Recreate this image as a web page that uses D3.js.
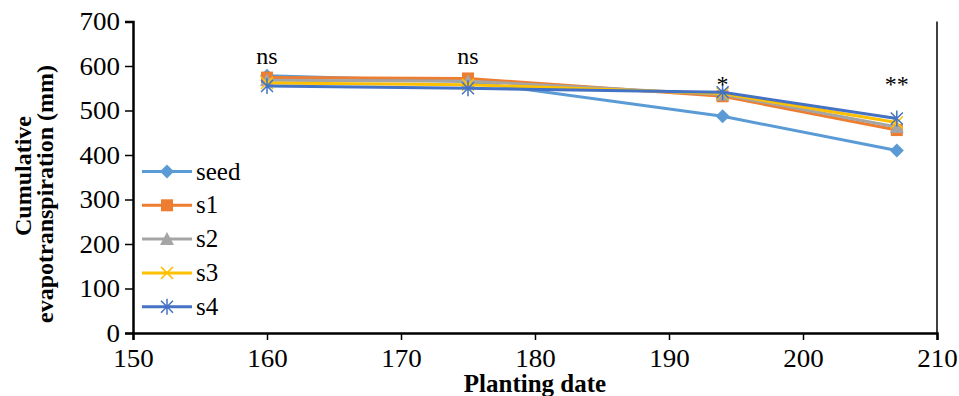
<!DOCTYPE html>
<html>
<head>
<meta charset="utf-8">
<script src="https://cdn.jsdelivr.net/npm/d3@7"></script>
<style>
  body { margin: 0; background: #fff; }
  svg { display: block; }
  svg text { font-family: "Liberation Serif", "Times New Roman", serif; fill: #000; }
</style>
</head>
<body>
<svg id="chart" width="959" height="396"></svg>
<script>
// Planting dates (day of year) and cumulative ET (mm) per treatment
const dates = [160, 175, 194, 207];
const seed = [578, 565, 487, 410];
const s1 = [574, 572, 532, 456];
const s2 = [568, 566, 536, 463];
const s3 = [562, 558, 538, 473];
const s4 = [555, 550, 541, 482];
const seriesNames = ["seed", "s1", "s2", "s3", "s4"];
const significance = ["ns", "ns", "*", "**"];
const xTicks = [150, 160, 170, 180, 190, 200, 210];
const yTicks = [0, 100, 200, 300, 400, 500, 600, 700];

const seriesValues = [seed, s1, s2, s3, s4];
const colors = ["#5B9BD5", "#ED7D31", "#A5A5A5", "#FFC000", "#4472C4"];
const shapes = ["diamond", "square", "triangle", "cross", "asterisk"];

const svg = d3.select("#chart");
const m = { left: 133, right: 937, top: 21.5, bottom: 333 };

const x = d3.scaleLinear().domain([150, 210]).range([m.left, m.right]);
const y = d3.scaleLinear().domain([0, 700]).range([m.bottom, m.top]);

// widen a text element horizontally about its own anchor point
function widen(sel, sx) {
  sel.each(function () {
    const t = d3.select(this);
    const ax = +t.attr("x") || 0;
    t.attr("transform", `translate(${ax * (1 - sx)},0) scale(${sx},1)`);
  });
}

// right-hand frame line
svg.append("line")
  .attr("x1", m.right).attr("x2", m.right)
  .attr("y1", m.top).attr("y2", m.bottom)
  .attr("stroke", "#000").attr("stroke-width", 1.5);

// axes
const yAxis = svg.append("g")
  .attr("transform", `translate(${m.left},0)`)
  .call(d3.axisLeft(y).tickValues(yTicks).tickSize(8).tickPadding(5));
const xAxis = svg.append("g")
  .attr("transform", `translate(0,${m.bottom})`)
  .call(d3.axisBottom(x).tickValues(xTicks).tickSize(7).tickPadding(9));
[xAxis, yAxis].forEach(g => {
  g.attr("font-family", null).attr("font-size", null);
  g.select(".domain").attr("stroke", "#000").attr("stroke-width", 2.5);
  g.selectAll(".tick line").attr("stroke", "#000").attr("stroke-width", 1.5);
  g.selectAll(".tick text")
    .attr("fill", "#000")
    .style("font-size", "25px");
});
widen(yAxis.selectAll(".tick text"), 1.08);
widen(xAxis.selectAll(".tick text"), 1.08);

// axis titles
svg.append("text")
  .attr("x", (m.left + m.right) / 2).attr("y", 392)
  .attr("text-anchor", "middle")
  .style("font-size", "25px").style("font-weight", "bold")
  .text("Planting date");
const yTitle = svg.append("g")
  .attr("transform", "rotate(-90)")
  .style("font-size", "24px").style("font-weight", "bold");
yTitle.append("text").attr("x", -176).attr("y", 31)
  .attr("text-anchor", "middle").text("Cumulative");
yTitle.append("text").attr("x", -194).attr("y", 53)
  .attr("text-anchor", "middle").text("evapotranspiration (mm)");

// marker drawing
function marker(g, shape, color, cx, cy) {
  if (shape === "diamond") {
    g.append("path")
      .attr("d", `M${cx},${cy - 7}L${cx + 7},${cy}L${cx},${cy + 7}L${cx - 7},${cy}Z`)
      .attr("fill", color);
  } else if (shape === "square") {
    g.append("rect")
      .attr("x", cx - 6).attr("y", cy - 6).attr("width", 12).attr("height", 12)
      .attr("fill", color);
  } else if (shape === "triangle") {
    g.append("path")
      .attr("d", `M${cx},${cy - 7}L${cx + 7},${cy + 6}L${cx - 7},${cy + 6}Z`)
      .attr("fill", color);
  } else if (shape === "cross") {
    g.append("path")
      .attr("d", `M${cx - 6},${cy - 6}L${cx + 6},${cy + 6}M${cx - 6},${cy + 6}L${cx + 6},${cy - 6}`)
      .attr("stroke", color).attr("stroke-width", 1.5).attr("fill", "none");
  } else if (shape === "asterisk") {
    g.append("path")
      .attr("d", `M${cx - 6},${cy - 6}L${cx + 6},${cy + 6}M${cx - 6},${cy + 6}L${cx + 6},${cy - 6}M${cx},${cy - 8}L${cx},${cy + 8}`)
      .attr("stroke", color).attr("stroke-width", 1.5).attr("fill", "none");
  }
}

const line = d3.line().x(d => x(d[0])).y(d => y(d[1]));

seriesValues.forEach((vals, i) => {
  const pts = dates.map((d, j) => [d, vals[j]]);
  const g = svg.append("g");
  g.append("path")
    .attr("d", line(pts))
    .attr("fill", "none")
    .attr("stroke", colors[i])
    .attr("stroke-width", 3)
    .attr("stroke-linejoin", "round");
  pts.forEach(p => marker(g, shapes[i], colors[i], x(p[0]), y(p[1])));
});

// significance labels above each planting date
svg.append("g").selectAll("text")
  .data(dates)
  .join("text")
  .attr("x", d => x(d))
  .attr("y", (d, i) => i < 2 ? 64 : 92)
  .attr("text-anchor", "middle")
  .style("font-size", "24px")
  .text((d, i) => significance[i]);

// legend
const legend = svg.append("g");
seriesNames.forEach((name, i) => {
  const ly = 171.5 + i * 33.8;
  legend.append("line")
    .attr("x1", 142).attr("x2", 192).attr("y1", ly).attr("y2", ly)
    .attr("stroke", colors[i]).attr("stroke-width", 3);
  marker(legend, shapes[i], colors[i], 167, ly);
  legend.append("text")
    .attr("x", 196).attr("y", ly + 8)
    .style("font-size", "25px")
    .text(name);
});
</script>
</body>
</html>
